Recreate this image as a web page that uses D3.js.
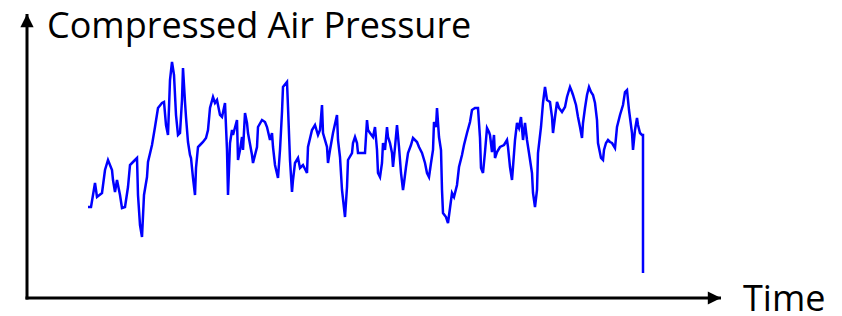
<!DOCTYPE html>
<html>
<head>
<meta charset="utf-8">
<script src="https://d3js.org/d3.v7.min.js"></script>
<style>
  body { margin: 0; background: #fff; }
  svg { display: block; }
</style>
</head>
<body>
<div class="box"></div>
<script>
// Data: time (arbitrary units) and pressure (arbitrary units)
const times = [0,3,7,9,14,17,20,24,25,27,29,30,32,34,37,40,42,45,49,50,52,54,56,59,60,64,67,70,74,76,78,80,82,84,86,88,90,92,94,95,97,98,100,102,103,105,107,108,110,112,115,118,120,122,125,127,129,132,134,137,139,140,142,144,145,149,150,152,154,155,157,159,160,164,165,169,170,174,177,179,182,184,185,187,190,192,194,195,199,200,202,204,205,207,210,212,215,219,220,224,227,230,232,234,235,239,240,242,245,249,250,252,254,257,259,260,264,265,267,269,270,274,277,279,280,282,285,287,289,290,292,294,295,297,299,300,302,304,305,307,309,311,313,315,316,318,320,323,325,329,331,334,337,339,341,343,345,346,348,349,351,353,354,355,358,360,362,364,366,369,371,374,376,379,382,384,387,390,392,393,395,397,399,401,402,404,406,407,409,412,416,419,420,422,424,425,427,429,431,433,435,437,439,441,444,445,447,449,450,453,455,457,459,462,464,465,467,469,471,474,477,479,482,484,485,488,490,492,494,495,497,499,501,503,505,507,509,510,513,515,516,518,520,522,524,527,529,532,535,537,539,541,544,545,547,549,550,552,554,555,555];
const pressure = [93,93,117,103,107,130,140,130,120,108,120,115,105,92,93,113,135,138,142,105,75,63,105,123,138,155,173,192,197,198,175,165,220,238,225,185,165,167,200,232,198,183,158,145,142,122,105,132,153,155,158,162,170,192,203,197,200,185,183,197,150,105,157,170,165,180,140,150,163,150,187,177,167,145,137,153,173,180,178,173,160,167,153,135,122,150,188,213,218,193,140,108,120,137,142,132,135,127,153,170,175,165,170,195,167,153,137,150,167,185,160,143,110,83,113,140,147,157,163,157,147,147,147,180,170,167,163,173,150,127,123,137,157,150,173,163,157,147,133,153,175,153,127,110,117,133,147,155,162,158,153,147,137,127,123,137,150,178,173,192,163,150,110,87,83,77,92,107,103,115,133,145,155,167,178,190,192,192,162,132,127,148,172,168,165,148,165,142,148,153,155,160,153,133,120,133,160,177,172,183,160,177,160,147,127,107,93,110,147,173,197,213,200,198,183,167,183,198,192,188,193,203,213,208,205,195,183,173,162,177,192,205,213,208,205,197,180,157,142,140,150,157,160,158,157,152,173,185,195,208,210,190,167,150,170,182,175,167,165,165,27];

const yLabel = "Compressed Air Pressure";
const xLabel = "Time";

const w = 842;
const h = 316;

// Axis frame
const originX = 27, originY = 298;
const xEnd = 721, yEnd = 14;

// Scales
const xScale = d3.scaleLinear()
    .domain([0, 555])
    .range([88, 643]);
const yScale = d3.scaleLinear()
    .domain([0, 285])
    .range([300, 15]);

const svg = d3.select(".box")
    .append("svg")
    .attr("width", w)
    .attr("height", h)
    .style("background", "#fff");

// Arrowhead marker
svg.append("defs").append("marker")
    .attr("id", "arrow")
    .attr("viewBox", "0 0 10 10")
    .attr("refX", 10)
    .attr("refY", 5)
    .attr("markerWidth", 8)
    .attr("markerHeight", 4.4)
    .attr("markerUnits", "strokeWidth")
    .attr("orient", "auto")
    .append("path")
    .attr("d", "M0,0 L10,5 L0,10 Z")
    .attr("fill", "#000");

// Axes
svg.append("line")
    .attr("x1", originX).attr("y1", originY + 1.5)
    .attr("x2", originX).attr("y2", yEnd)
    .attr("stroke", "#000")
    .attr("stroke-width", 3)
    .attr("marker-end", "url(#arrow)");

svg.append("line")
    .attr("x1", originX - 1.5).attr("y1", originY)
    .attr("x2", xEnd).attr("y2", originY)
    .attr("stroke", "#000")
    .attr("stroke-width", 3)
    .attr("marker-end", "url(#arrow)");

// The pressure line
const line = d3.line()
    .x((d, i) => xScale(times[i]))
    .y((d) => yScale(d));

svg.append("path")
    .datum(pressure)
    .attr("d", line)
    .attr("fill", "none")
    .attr("stroke", "#0000ff")
    .attr("stroke-width", 2.5)
    .attr("stroke-linejoin", "miter");

// Labels
svg.append("text")
    .attr("x", 47)
    .attr("y", 38)
    .style("font-family", "Open Sans")
    .style("font-size", "36px")
    .text(yLabel);

svg.append("text")
    .attr("x", 743)
    .attr("y", 311)
    .style("font-family", "Open Sans")
    .style("font-size", "36px")
    .text(xLabel);
</script>
</body>
</html>
